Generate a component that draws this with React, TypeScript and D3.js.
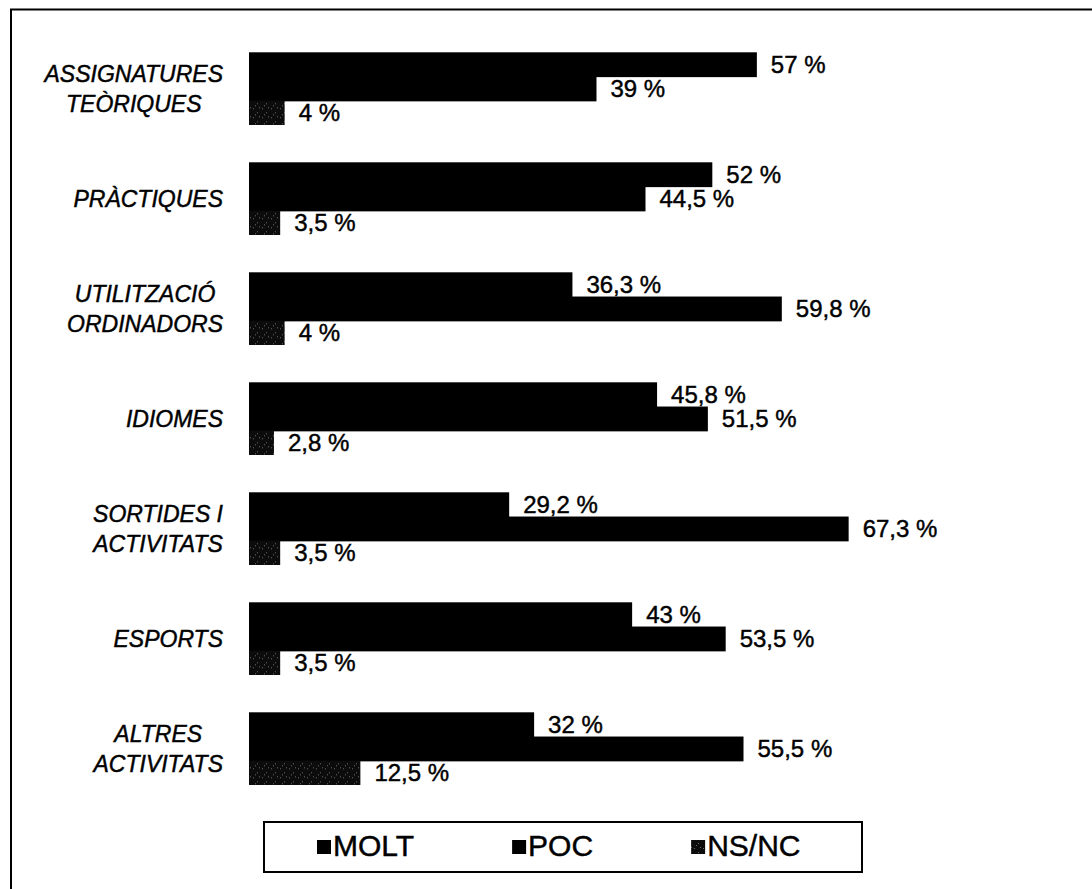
import React, { useEffect, useRef } from "react";
import * as d3 from "d3";

const categories: string[] = [
  "ASSIGNATURES\nTEÒRIQUES",
  "PRÀCTIQUES",
  "UTILITZACIÓ\nORDINADORS",
  "IDIOMES",
  "SORTIDES I\nACTIVITATS",
  "ESPORTS",
  "ALTRES\nACTIVITATS",
];
const seriesNames: string[] = ["MOLT", "POC", "NS/NC"];
const molt: number[] = [57, 52, 36.3, 45.8, 29.2, 43, 32];
const poc: number[] = [39, 44.5, 59.8, 51.5, 67.3, 53.5, 55.5];
const nsnc: number[] = [4, 3.5, 4, 2.8, 3.5, 3.5, 12.5];
const seriesValues: number[][] = [molt, poc, nsnc];

const W = 1092;
const H = 889;
const FONT = "'Liberation Sans', Arial, sans-serif";

const fmt = (v: number) => String(v).replace(".", ",") + " %";

export default function App() {
  const ref = useRef<SVGSVGElement | null>(null);

  useEffect(() => {
    const svg = d3.select(ref.current);
    svg.selectAll("*").remove();

    const defs = svg.append("defs");
    const pat = defs
      .append("pattern")
      .attr("id", "nsncPat")
      .attr("patternUnits", "userSpaceOnUse")
      .attr("width", 9)
      .attr("height", 9);
    pat.append("rect").attr("width", 9).attr("height", 9).attr("fill", "#0c0c0c");
    [
      [1, 2],
      [5, 6],
      [7, 1],
      [3, 8],
    ].forEach(([px, py]) =>
      pat.append("rect").attr("x", px).attr("y", py).attr("width", 1).attr("height", 1).attr("fill", "#6a6a6a")
    );

    const fills = ["#000", "#000", "url(#nsncPat)"];

    // Outer frame (right and bottom edges fall outside the picture)
    svg
      .append("rect")
      .attr("x", 11)
      .attr("y", 9.5)
      .attr("width", W + 20)
      .attr("height", H + 20)
      .attr("fill", "none")
      .attr("stroke", "#000")
      .attr("stroke-width", 2);

    const x = d3.scaleLinear().domain([0, 70]).range([249, 249 + 70 * 8.91]);
    const y = d3
      .scaleBand<string>()
      .domain(categories)
      .range([33.65, 803.65])
      .paddingInner(0.339)
      .paddingOuter(0.1695);
    const ys = d3
      .scaleBand<string>()
      .domain(seriesNames)
      .range([0, y.bandwidth()])
      .padding(0);

    const groups = svg
      .selectAll("g.grp")
      .data(categories)
      .join("g")
      .attr("class", "grp")
      .attr("transform", (c) => `translate(0,${y(c)})`);

    seriesNames.forEach((s, si) => {
      groups
        .append("rect")
        .attr("x", x(0))
        .attr("y", ys(s)!)
        .attr("width", (_c, i) => x(seriesValues[si][i]) - x(0))
        .attr("height", ys.bandwidth() + (si < 2 ? 0.6 : 0))
        .attr("fill", fills[si]);
    });

    const textStyle = (t: d3.Selection<SVGTextElement, any, any, any>) =>
      t
        .attr("font-family", FONT)
        .attr("fill", "#000")
        .attr("stroke", "#000")
        .attr("stroke-width", 0.45);

    seriesNames.forEach((s, si) => {
      groups
        .append("text")
        .call(textStyle)
        .attr("x", (_c, i) => x(seriesValues[si][i]) + 14)
        .attr("y", ys(s)! + ys.bandwidth() / 2 + 8.6)
        .attr("font-size", 24)
        .text((_c, i) => fmt(seriesValues[si][i]));
    });

    // Category labels: multi-line blocks, lines centred, block right-aligned
    const labelRight = 223;
    const lineGap = 30.5;
    groups.each(function (c) {
      const g = d3.select(this);
      const lines = c.split("\n");
      const cy = y.bandwidth() / 2;
      const texts = lines.map((ln, li) =>
        g
          .append("text")
          .call(textStyle)
          .attr("font-style", "italic")
          .attr("font-size", 23)
          .attr("text-anchor", "middle")
          .attr("y", cy + 8.2 + (li - (lines.length - 1) / 2) * lineGap)
          .text(ln)
      );
      const maxW = d3.max(texts, (t) => (t.node() as SVGTextElement).getComputedTextLength()) || 0;
      texts.forEach((t) => t.attr("x", labelRight - maxW / 2));
    });

    // Legend
    const lg = svg.append("g");
    lg.append("rect")
      .attr("x", 264)
      .attr("y", 822)
      .attr("width", 598)
      .attr("height", 50)
      .attr("fill", "#fff")
      .attr("stroke", "#000")
      .attr("stroke-width", 2);
    let cx = 317;
    seriesNames.forEach((s, si) => {
      lg.append("rect")
        .attr("x", cx)
        .attr("y", 840)
        .attr("width", 14)
        .attr("height", 14)
        .attr("fill", fills[si]);
      const t = lg
        .append("text")
        .call(textStyle)
        .attr("x", cx + 16)
        .attr("y", 856)
        .attr("font-size", 30)
        .text(s);
      const tw = (t.node() as SVGTextElement).getComputedTextLength();
      cx = cx + 16 + tw + 98;
    });
  }, []);

  return (
    <svg
      ref={ref}
      width={W}
      height={H}
      style={{ position: "absolute", left: 0, top: 0, background: "#fff" }}
    />
  );
}
